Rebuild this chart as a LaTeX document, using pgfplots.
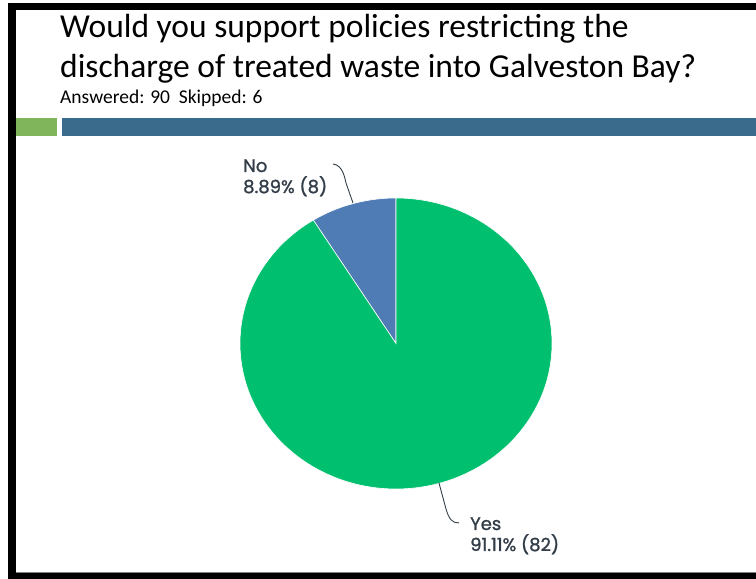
\documentclass[border=0pt]{standalone}
\usepackage{pgfplots}
\pgfplotsset{compat=1.18}
\usepackage{pgfplotstable}
\usepackage{fontspec}
\setmainfont{Carlito}
\newfontfamily\lab{Poppins}[FakeBold=1.2]
\definecolor{piegreen}{HTML}{00BF6F}
\definecolor{pieblue}{HTML}{507CB6}
\definecolor{bargreen}{HTML}{80B55B}
\definecolor{barblue}{HTML}{3A6A8C}
\definecolor{labgray}{HTML}{333E48}
\pgfplotstableread{
answer count
Yes 82
No 8
}\piedata
\begin{document}
\begin{tikzpicture}
\begin{scope}[x=1pt,y=1pt]
\useasboundingbox (0,0) rectangle (756,579);
\fill[white] (0,0) rectangle (756,579);
% frame
\fill[black] (8,569) rectangle (756,576);
\fill[black] (8,0) rectangle (16,576);
\fill[black] (8,0) rectangle (756,6);
\fill[gray] (16,6) rectangle (756,6.8);
% title
\node[anchor=base west,inner sep=0pt,font=\fontsize{33.5}{40}\selectfont] at (60,541) {Would you support policies restricting the};
\node[anchor=base west,inner sep=0pt,font=\fontsize{33.5}{40}\selectfont] at (60,501) {discharge of treated waste into Galveston Bay?};
\node[anchor=base west,inner sep=0pt,font=\fontsize{19.5}{23}\selectfont] at (60,475) {Answered: 90\ \ Skipped: 6};
% bars
\fill[bargreen] (16,443) rectangle (57,461);
\fill[barblue] (62,443) rectangle (756,461);
\end{scope}
\pgfplotstablegetelem{0}{count}\of\piedata \let\yesv\pgfplotsretval
\pgfplotstablegetelem{1}{count}\of\piedata \let\nov\pgfplotsretval
\pgfmathsetmacro\tot{\yesv+\nov}
\pgfmathsetmacro\fno{\nov/\tot}
\pgfmathsetmacro\fyes{\yesv/\tot}
\pgfmathsetmacro\angno{90+360*\fno}
\pgfmathsetmacro\angyes{\angno+360*\fyes}
\begin{axis}[
  at={(396pt,235.5pt)}, anchor=center,
  scale only axis, width=312pt, height=291pt,
  xmin=-1, xmax=1, ymin=-1, ymax=1,
  hide axis, clip=false]
\addplot[fill=pieblue, draw=white, line width=0.6pt, domain=90:\angno, samples=60] ({cos(x)},{sin(x)}) -- (axis cs:0,0) -- cycle;
\addplot[fill=piegreen, draw=white, line width=0.6pt, domain=\angno:\angyes, samples=300] ({cos(x)},{sin(x)}) -- (axis cs:0,0) -- cycle;
\end{axis}
\begin{scope}[x=1pt,y=1pt]
% leader lines
\draw[labgray, line width=0.9pt] (333,415) .. controls (343,414) and (345,400) .. (346,396) -- (353,376);
\draw[labgray, line width=0.9pt] (439,96) -- (446,70) .. controls (449,60) and (452,56) .. (459,56);
% labels
\node[anchor=base west,inner sep=0pt,text=labgray,font=\lab\fontsize{18}{21}\selectfont] at (243,407) {No};
\node[anchor=base west,inner sep=0pt,text=labgray,font=\lab\fontsize{18}{21}\selectfont] at (243,386) {8.89\% (8)};
\node[anchor=base west,inner sep=0pt,text=labgray,font=\lab\fontsize{18}{21}\selectfont] at (470,49) {Yes};
\node[anchor=base west,inner sep=0pt,text=labgray,font=\lab\fontsize{18}{21}\selectfont] at (470,28) {91.11\% (82)};
\end{scope}
\end{tikzpicture}
\end{document}
